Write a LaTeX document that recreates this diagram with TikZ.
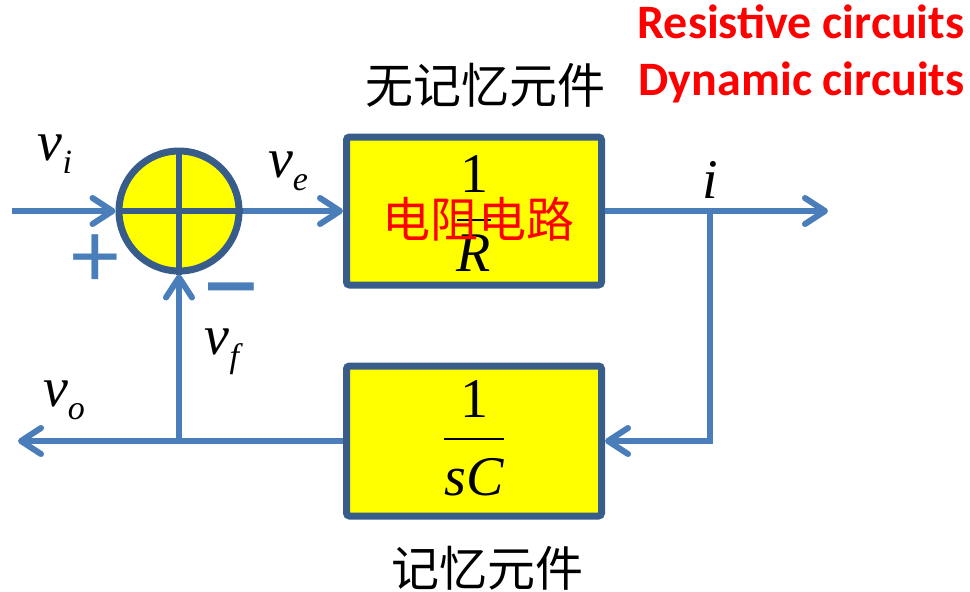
\documentclass[tikz,border=0pt]{standalone}
\usepackage{amsmath}
\usepackage{fontspec}
\setmainfont{Liberation Serif}
\newfontfamily\cjk{Noto Sans CJK SC}
\newfontfamily\calib{Carlito}
\usepackage{tikz}
\usetikzlibrary{arrows.meta, positioning, calc}
\definecolor{lineblue}  {RGB}{ 74, 126, 187}
\definecolor{edgeblue}  {RGB}{ 56,  93, 138}
\definecolor{blkyellow} {RGB}{255, 255,   0}
\definecolor{txtred}    {RGB}{255,   0,   0}

\newcommand{\vsub}[1]{\textit{v}\raisebox{-6.5pt}{\fontsize{17}{17}\selectfont\textit{#1}}}
\newcommand{\mv}[2]{\raisebox{#1}[\height][\depth]{#2}}

\begin{document}
\begin{tikzpicture}[x=0.5pt,y=-0.5pt,
	sig/.style={line width=3pt,draw=lineblue,
		-{Straight Barb[length=10pt,width=13pt,line cap=round,line join=round]}},
	blk/.style={draw=edgeblue,line width=3.5pt,fill=blkyellow,rounded corners=1.5pt,
		minimum width=127.5pt,minimum height=74pt,inner sep=0pt,
		font=\fontsize{28}{32}\selectfont},
	lbl/.style={font=\fontsize{28}{30}\selectfont,inner sep=0pt},
	cjklbl/.style={font=\fontsize{24}{26}\selectfont\cjk,inner sep=0pt},
	sign/.style={inner sep=0pt,text=lineblue,font=\fontsize{48}{48}\selectfont\calib},
	title/.style={anchor=base east,inner sep=0pt,text=txtred,font=\fontsize{24}{26}\selectfont\calib\bfseries}
	]
	\useasboundingbox (0,0) rectangle (970,591);
	% blocks
	\node[circle,draw=edgeblue,line width=3.5pt,fill=blkyellow,minimum size=60pt,inner sep=0pt] (sum) at (179,211) {};
	\draw[edgeblue,line width=3pt] (sum.north)--(sum.south) (sum.west)--(sum.east);
	\node[blk] (res) at (474,211) {$\dfrac{\mv{3.5pt}{1}}{\mv{-2.5pt}{\itshape R}}$};
	\node[blk,minimum height=75pt] (cap) at (474,441) {\mv{4pt}{$\dfrac{\mbox{1}}{\mv{-5pt}{\itshape sC}}$}};
	\node[cjklbl,text=txtred] (rname) at (478,219) {电阻电路};
	% signal points
	\coordinate (vin) at (12,211);
	\coordinate (vout) at (828,211);
	\coordinate (br) at (710,211);
	\coordinate (vo) at (18,441);
	\coordinate (jn) at (sum |- cap.west);
	% connectors
	\draw[sig] (vin) -- (sum.west);
	\draw[sig] (sum.east) -- (res.west);
	\draw[sig] (res.east) -- (vout);
	\draw[sig] (br) |- (cap.east);
	\draw[sig] (cap.west) -- (vo);
	\draw[sig] (jn) -- (sum.south);
	% labels
	\node[lbl] (lvi) at (55,154) {\vsub{i}};
	\node[lbl] (lve) at (288,171) {\vsub{e}};
	\node[lbl] (li) at (710,180) {\textit{i}};
	\node[lbl] (lvf) at (224,352) {\vsub{f}};
	\node[lbl] (lvo) at (64,400) {\vsub{o}};
	\node[sign] (plus) at (95,261) {+};
	\node[sign,font=\fontsize{64}{64}\selectfont\calib] (minus) at (231,303) {–};
	\node[cjklbl] (nomem) at (485,85) {无记忆元件};
	\node[cjklbl] (mem) at (487,568) {记忆元件};
	\node[title] (resc) at (965,38) {Resistive circuits};
	\node[title] (dync) at (965,95) {Dynamic circuits};
\end{tikzpicture}
\end{document}
